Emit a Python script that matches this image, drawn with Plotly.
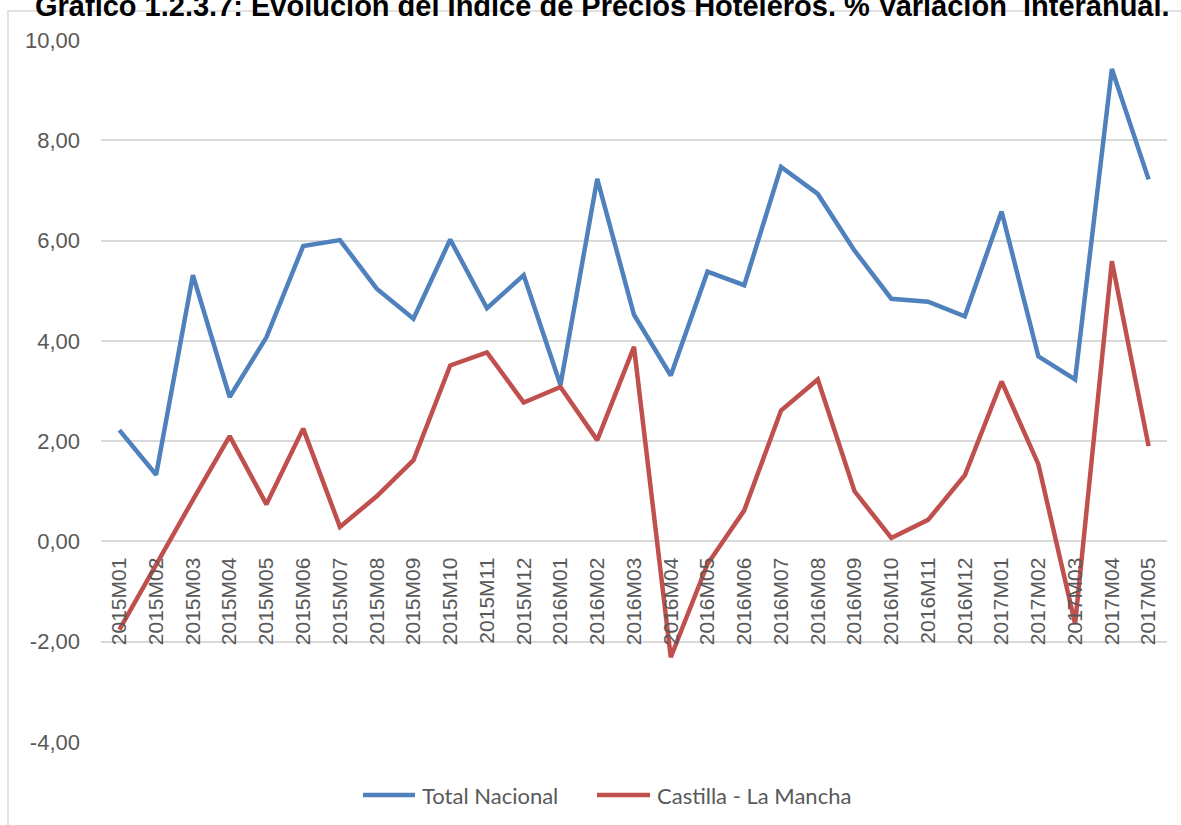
import plotly.graph_objects as go

categories = ["2015M01", "2015M02", "2015M03", "2015M04", "2015M05", "2015M06",
              "2015M07", "2015M08", "2015M09", "2015M10", "2015M11", "2015M12",
              "2016M01", "2016M02", "2016M03", "2016M04", "2016M05", "2016M06",
              "2016M07", "2016M08", "2016M09", "2016M10", "2016M11", "2016M12",
              "2017M01", "2017M02", "2017M03", "2017M04", "2017M05"]

total_nacional = [2.22, 1.33, 5.31, 2.88, 4.07, 5.89, 6.01, 5.04, 4.44, 6.02, 4.65, 5.31,
                  3.12, 7.23, 4.52, 3.31, 5.38, 5.11, 7.47, 6.93, 5.80, 4.84, 4.78, 4.49,
                  6.58, 3.69, 3.23, 9.42, 7.22]

castilla_la_mancha = [-1.76, -0.45, 0.83, 2.10, 0.74, 2.25, 0.29, 0.90, 1.62, 3.51, 3.77, 2.77,
                      3.08, 2.02, 3.88, -2.31, -0.45, 0.62, 2.61, 3.23, 1.00, 0.07, 0.43, 1.32,
                      3.19, 1.54, -1.64, 5.59, 1.90]

series_names = ["Total Nacional", "Castilla - La Mancha"]
series_colors = ["#4F81BD", "#C0504D"]

y_tick_values = [-4, -2, 0, 2, 4, 6, 8, 10]
y_tick_labels = ["-4,00", "-2,00", "0,00", "2,00", "4,00", "6,00", "8,00", "10,00"]

title_text = "Gráfico 1.2.3.7: Evolución del Índice de Precios Hoteleros. % Variación  interanual."

W, H = 1181, 825
L, R, T, B = 101, 14, 40, 83
pw, ph = W - L - R, H - T - B

def px_x(p):
    return (p - L) / pw

def px_y(p):
    return (H - B - p) / ph

fig = go.Figure()
for name, vals, col in zip(series_names, [total_nacional, castilla_la_mancha], series_colors):
    fig.add_trace(go.Scatter(x=categories, y=vals, mode="lines", name=name,
                             line=dict(color=col, width=4.5), showlegend=False))

fig.update_layout(
    width=W, height=H,
    margin=dict(l=L, r=R, t=T, b=B, autoexpand=False),
    paper_bgcolor="white", plot_bgcolor="white",
    font=dict(family="Liberation Sans, Arial", color="#595959", size=20),
    showlegend=False,
    xaxis=dict(type="category", range=[-0.5, len(categories) - 0.5],
               anchor="free", position=4 / 14, showgrid=False, showline=False, zeroline=False,
               tickangle=-90, ticks="", ticklabelstandoff=11,
               tickfont=dict(family="Liberation Sans, Arial", size=21, color="#595959")),
    yaxis=dict(range=[-4, 10], tickmode="array", tickvals=y_tick_values, ticktext=y_tick_labels,
               showgrid=True, gridcolor="#D9D9D9", gridwidth=1.5,
               zeroline=False, showline=False, ticks="", ticklabelstandoff=20,
               tickfont=dict(family="Liberation Sans, Arial", size=22, color="#595959")),
)

# frame
fig.add_shape(type="rect", xref="paper", yref="paper",
              x0=px_x(8), x1=px_x(1200), y0=px_y(850), y1=px_y(11),
              line=dict(color="#D9D9D9", width=1.5), fillcolor="rgba(0,0,0,0)", layer="below")

# custom legend (long line samples as in the reference)
legend_items = [(363, 415, 420), (597, 650, 655)]
for (x0, x1, xt), name, col in zip(legend_items, series_names, series_colors):
    fig.add_shape(type="line", xref="paper", yref="paper",
                  x0=px_x(x0), x1=px_x(x1), y0=px_y(795), y1=px_y(795),
                  line=dict(color=col, width=4.5))
    fig.add_annotation(text=name, xref="paper", yref="paper", x=px_x(xt), y=px_y(795),
                       xanchor="left", yanchor="middle", showarrow=False,
                       font=dict(family="Lato, Liberation Sans", size=22, color="#595959"))

fig.add_annotation(text="<b>" + title_text + "</b>", xref="paper", yref="paper",
                   x=px_x(602), y=px_y(24), xanchor="center", yanchor="bottom",
                   showarrow=False, font=dict(family="Liberation Sans, Arial", size=29, color="black"))

fig.write_html("out.html", config={"displayModeBar": False},
               post_script="document.body.style.margin='0';document.body.style.overflow='hidden';")
